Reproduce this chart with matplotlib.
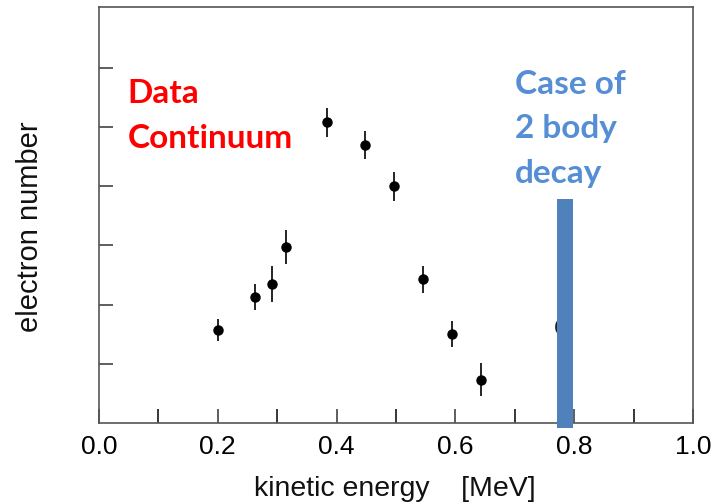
import matplotlib
matplotlib.use("Agg")
import matplotlib.pyplot as plt
import numpy as np

# electron spectrum
energy = [0.201, 0.263, 0.292, 0.315, 0.384, 0.448, 0.497, 0.546, 0.595, 0.643]
counts = [1.57, 2.13, 2.35, 2.97, 5.08, 4.70, 4.00, 2.43, 1.50, 0.73]
errors = [0.19, 0.22, 0.31, 0.29, 0.25, 0.24, 0.25, 0.23, 0.22, 0.28]

# two body decay line
line_energy = [0.785]
line_top = [3.78]
line_bottom = -0.08

xticks = [0.0, 0.2, 0.4, 0.6, 0.8, 1.0]
xtick_labels = ["0.0", "0.2", "0.4", "0.6", "0.8", "1.0"]

plt.rcParams["font.family"] = ["Liberation Sans", "DejaVu Sans"]

fig = plt.figure(figsize=(7.25, 5.03), dpi=100)
ax = fig.add_axes([99/725, 80/503, 594/725, 416/503])

ax.errorbar(energy, counts, yerr=errors, fmt="o", color="black", ms=6.5,
            elinewidth=1.2, capsize=0, zorder=4)

ax.text(0.783, 1.59, "O", fontsize=18, ha="center", va="center",
        color="#222222", zorder=2)
ax.bar(line_energy, np.array(line_top) - line_bottom, bottom=line_bottom,
       width=0.0263, color="#4F81BD", clip_on=False, zorder=3)

ax.text(0.048, 5.41, "Data", color="#FF0000", fontsize=24, fontweight="bold",
        family="Lato", va="baseline")
ax.text(0.048, 4.65, "Continuum", color="#FF0000", fontsize=24, fontweight="bold",
        family="Lato", va="baseline")
ax.text(0.700, 5.552, "Case of", color="#558ED5", fontsize=24, fontweight="bold",
        family="Lato", va="baseline")
ax.text(0.700, 4.809, "2 body", color="#558ED5", fontsize=24, fontweight="bold",
        family="Lato", va="baseline")
ax.text(0.700, 4.049, "decay", color="#558ED5", fontsize=24, fontweight="bold",
        family="Lato", va="baseline")

ax.set_xlim(0, 1)
ax.set_ylim(0, 7.03)
ax.set_xticks(xticks)
ax.set_xticklabels(xtick_labels)
ax.set_xticks(np.arange(0.1, 1.0, 0.2), minor=True)
ax.set_yticks([1, 2, 3, 4, 5, 6])
ax.set_yticklabels([])
ax.tick_params(direction="in", length=10, width=1.1, color="#333333")
ax.tick_params(axis="x", which="both", direction="in", length=10, width=1.1,
               labelsize=19, pad=9)
for s in ax.spines.values():
    s.set_color("#555555")
    s.set_linewidth(1.2)

fig.text(30/725, 1 - 226.5/503, "electron number", rotation=90, fontsize=21,
         ha="center", va="center", color="#111111")
fig.text(394.5/725, 7/503, "kinetic energy    [MeV]", fontsize=20.5,
         ha="center", va="baseline", color="#111111")

fig.savefig("out.png", dpi=100)
